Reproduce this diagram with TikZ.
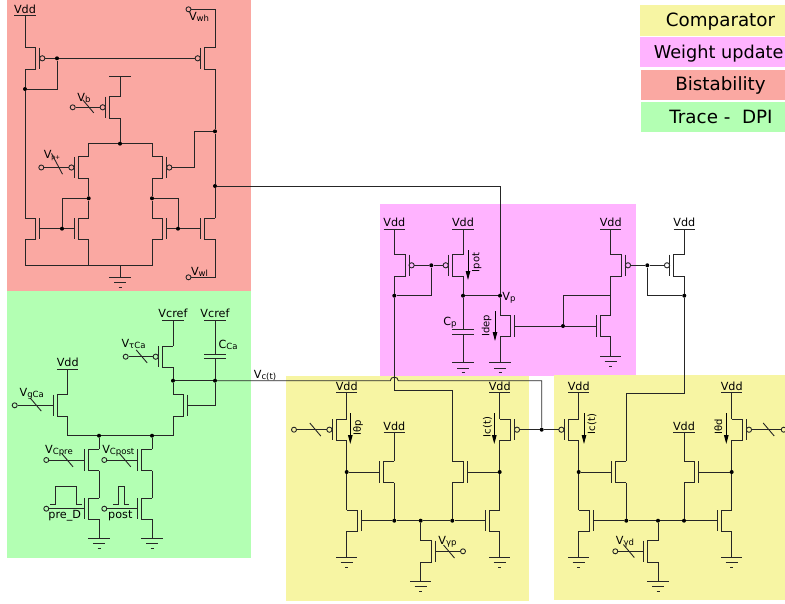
\documentclass[tikz,border=0pt]{standalone}
\usepackage{fontspec}
\setmainfont{DejaVu Sans}
\usepackage{xcolor}
\usetikzlibrary{arrows.meta}
\definecolor{cmpcol}{HTML}{F7F5A3}
\definecolor{wgtcol}{HTML}{FFB3FF}
\definecolor{bstcol}{HTML}{FAA8A2}
\definecolor{trccol}{HTML}{B3FFB3}
\newcommand{\vsub}[2]{#1\raisebox{-1pt}{\fontsize{8.5}{8.5}\selectfont #2}}
\tikzset{
  wire/.style={line width=0.9pt,black!85},
  dot/.style={circle,fill=black,inner sep=0pt,minimum size=4pt},
  term/.style={circle,draw=black!85,line width=0.9pt,fill=none,inner sep=0pt,minimum size=5pt},
  lbl/.style={anchor=base,inner sep=0pt,font=\fontsize{11.2}{11.2}\selectfont},
  rotlbl/.style={rotate=90,inner sep=0pt,font=\fontsize{10}{10}\selectfont},
  legtxt/.style={anchor=base,inner sep=0pt,font=\fontsize{18.3}{18.3}\selectfont},
  ibias/.style={line width=0.9pt,-{Triangle[length=9pt,width=4.5pt]}},
  nmos/.pic={
    \draw[wire] (0,-10.7) -- (10.7,-10.7) -- (10.7,10.7) -- (0,10.7);
    \draw[wire] (14.7,-10.7) -- (14.7,10.7);
    \coordinate (-t) at (0,-10.7);
    \coordinate (-b) at (0,10.7);
    \coordinate (-g) at (14.7,0);
  },
  pmos/.pic={
    \draw[wire] (0,-10.7) -- (10.7,-10.7) -- (10.7,10.7) -- (0,10.7);
    \draw[wire] (14.7,-10.7) -- (14.7,10.7);
    \draw[wire] (17.3,0) circle[radius=2.6pt];
    \coordinate (-t) at (0,-10.7);
    \coordinate (-b) at (0,10.7);
    \coordinate (-g) at (19.9,0);
  },
  supply/.pic={
    \draw[wire] (-10.7,0) -- (10.7,0);
    \node[lbl] (-l) at (0,-2.3) {#1};
    \coordinate (-o) at (0,0);
  },
  gnd/.pic={
    \draw[wire] (-10.7,0) -- (10.7,0);
    \draw[wire] (-6,5.5) -- (6,5.5);
    \draw[wire] (-1.5,10) -- (1.5,10);
    \coordinate (-o) at (0,0);
  },
  capa/.pic={
    \draw[wire] (-10.7,-2.4) -- (10.7,-2.4);
    \draw[wire] (-10.7,2.4) -- (10.7,2.4);
    \coordinate (-t) at (0,-2.4);
    \coordinate (-b) at (0,2.4);
  },
  knob/.pic={
    \draw[wire] (-5.5,-6.5) -- (5.5,6.5);
  },
}
\begin{document}
\begin{tikzpicture}[x=1pt,y=-1pt]
\useasboundingbox (0,0) rectangle (785,603);
% coloured blocks
\fill[bstcol] (7,0) rectangle (251,291);
\fill[trccol] (7,291) rectangle (251,557.5);
\fill[wgtcol] (380,204) rectangle (636,376);
\fill[cmpcol] (286,376) rectangle (529,601);
\fill[cmpcol] (554,375) rectangle (785,600);
% legend
\fill[cmpcol] (640,5) rectangle (785,36);
\fill[wgtcol] (640,37) rectangle (785,67);
\fill[bstcol] (641,70) rectangle (785,100);
\fill[trccol] (641,102) rectangle (785,132);
\node[legtxt] (legcmp) at (720.5,26.7) {Comparator};
\node[legtxt,font=\fontsize{17.7}{17.7}\selectfont] (legwgt) at (718.7,58.3) {Weight update};
\node[legtxt] (legbst) at (720.5,90.7) {Bistability};
\node[legtxt] (legtrc) at (721,123.3) {Trace -\ \ DPI};

% bistability
\pic (vdd1) at (25,15.3) {supply=Vdd};
\pic (vtop) at (120,76.7) {supply=};
\pic (m1) at (25,58.3) {pmos};
\pic[xscale=-1] (m2) at (215,58.3) {pmos};
\pic[xscale=-1] (m3) at (120,107.3) {pmos};
\pic[xscale=-1] (m4) at (88.7,167.5) {pmos};
\pic (m5) at (152,167.5) {pmos};
\pic (m6) at (25,228.7) {nmos};
\pic[xscale=-1] (m7) at (88.7,228.7) {nmos};
\pic (m8) at (152,228.7) {nmos};
\pic[xscale=-1] (m9) at (215,228.7) {nmos};
\pic (gnd1) at (120,277.3) {gnd};
\node[dot] (j1) at (57,58.3) {};
\node[dot] (j2) at (25,89) {};
\node[dot] (j3) at (120,143.7) {};
\node[dot] (j4) at (88.7,198.3) {};
\node[dot] (j5) at (152,198.3) {};
\node[dot] (j6) at (62,228.7) {};
\node[dot] (j7) at (178,228.7) {};
\node[dot] (j8) at (215,131.3) {};
\node[dot] (j9) at (215,186) {};
\node[term] (t1) at (188.5,9.3) {};
\node[term] (t2) at (72.7,107.3) {};
\node[term] (t3) at (41.3,167.5) {};
\node[term] (t4) at (188.5,277.3) {};
\coordinate (b1) at (120,265.3);
\coordinate (c1) at (194,167.5);
\coordinate (c2) at (500,186);
\draw[wire] (vdd1-o) -- (m1-t);
\draw[wire] (m1-g) -- (j1) -- (m2-g);
\draw[wire] (j1) |- (j2);
\draw[wire] (m1-b) -- (j2) -- (m6-t);
\draw[wire] (m2-t) |- (t1);
\draw[wire] (m2-b) -- (j8) -- (j9) -- (m9-t);
\draw[wire] (m9-b) |- (t4);
\draw[wire] (vtop-o) -- (m3-t);
\draw[wire] (m3-g) -- (t2);
\draw[wire] (m3-b) -- (j3);
\draw[wire] (m4-t) |- (j3) -| (m5-t);
\draw[wire] (m4-g) -- (t3);
\draw[wire] (m5-g) -- (c1) |- (j8);
\draw[wire] (m4-b) -- (j4) -- (m7-t);
\draw[wire] (m5-b) -- (j5) -- (m8-t);
\draw[wire] (j4) -| (j6);
\draw[wire] (j5) -| (j7);
\draw[wire] (m6-g) -- (j6) -- (m7-g);
\draw[wire] (m8-g) -- (j7) -- (m9-g);
\draw[wire] (m6-b) |- (b1) -| (m8-b);
\draw[wire] (m7-b) -- (m7-b |- b1);
\draw[wire] (b1) -- (gnd1-o);
\pic at (88.3,106.4) {knob};
\pic[yscale=1.6] at (57,163.8) {knob};
\node[lbl] (lvwh) at (199,20.7) {\vsub{V}{wh}};
\node[lbl] (lvb) at (84,101.7) {\vsub{V}{b}};
\node[lbl] (lvp) at (52,158) {V\raisebox{-1pt}{\fontsize{6}{6}\selectfont p+}};
\node[lbl] (lvwl) at (199.5,275) {\vsub{V}{wl}};

% trace - DPI
\pic (vcr1) at (173,320) {supply=Vcref};
\pic (vcr2) at (215,320) {supply=Vcref};
\pic (vdd2) at (67.7,369) {supply=Vdd};
\pic[xscale=-1] (m10) at (173,356.7) {pmos};
\pic (m11) at (173,405.3) {nmos};
\pic[xscale=-1] (m12) at (67.7,405.3) {nmos};
\pic[xscale=-1] (m13) at (99,460) {nmos};
\pic[xscale=-1] (m14) at (152,460) {nmos};
\pic[xscale=-1] (m15) at (99,508.7) {nmos};
\pic[xscale=-1] (m16) at (152,508.7) {nmos};
\pic (cca) at (215,356.5) {capa};
\pic (gnd2) at (99,538.3) {gnd};
\pic (gnd3) at (152,538.3) {gnd};
\node[dot] (j10) at (173,380.7) {};
\node[dot] (j11) at (215,380.7) {};
\node[dot] (j12) at (99,435.7) {};
\node[dot] (j13) at (152,435.7) {};
\node[term] (t5) at (125.7,356.7) {};
\node[term] (t6) at (14.7,405.3) {};
\node[term] (t7) at (46.3,460) {};
\node[term] (t8) at (104.3,460) {};
\node[term] (t9) at (46.3,508.7) {};
\node[term] (t10) at (104.3,508.7) {};
\coordinate (c3) at (215,405.3);
\draw[wire] (vcr1-o) -- (m10-t);
\draw[wire] (m10-g) -- (t5);
\draw[wire] (m10-b) -- (j10) -- (m11-t);
\draw[wire] (vcr2-o) -- (cca-t);
\draw[wire] (cca-b) -- (j11);
\draw[wire] (j10) -- (j11);
\draw[wire] (m11-g) -- (c3) -- (j11);
\draw[wire] (vdd2-o) -- (m12-t);
\draw[wire] (m12-g) -- (t6);
\draw[wire] (m12-b) |- (j12) -- (j13) -| (m11-b);
\draw[wire] (j12) -- (m13-t);
\draw[wire] (j13) -- (m14-t);
\draw[wire] (m13-g) -- (t7);
\draw[wire] (m14-g) -- (t8);
\draw[wire] (m13-b) -- (m15-t);
\draw[wire] (m14-b) -- (m16-t);
\draw[wire] (m15-g) -- (t9);
\draw[wire] (m16-g) -- (t10);
\draw[wire] (m15-b) -- (gnd2-o);
\draw[wire] (m16-b) -- (gnd3-o);
\draw[wire] (50,504.3) -- (55,504.3) -- (55,486) -- (76.3,486) -- (76.3,504.3) -- (81.7,504.3);
\draw[wire] (113.3,504.3) -- (118.7,504.3) -- (118.7,486) -- (124,486) -- (124,504.3) -- (129.3,504.3);
\pic at (141.7,356.4) {knob};
\pic at (35.8,404.6) {knob};
\pic at (67.5,460.3) {knob};
\pic at (125.3,460.3) {knob};
\node[lbl] (lvtca) at (133.5,347.3) {\vsub{V}{τCa}};
\node[lbl] (lcca) at (228,348.3) {\vsub{C}{Ca}};
\node[lbl] (lvgca) at (31.7,396.7) {\vsub{V}{gCa}};
\node[lbl] (lvcpre) at (59,453.3) {\vsub{V}{Cpre}};
\node[lbl] (lvcpost) at (118.3,453.3) {\vsub{V}{Cpost}};
\node[lbl] (lpre) at (64.7,518.7) {pre\_D};
\node[lbl] (lpost) at (120.3,518.7) {post};
\node[lbl] (lvct) at (265,378) {\vsub{V}{c(t)}};

% comparator p
\pic (vdd3) at (346.7,392.7) {supply=Vdd};
\pic (vdd4) at (394.3,432.3) {supply=Vdd};
\pic (vdd5) at (499.7,392.7) {supply=Vdd};
\pic[xscale=-1] (m20) at (346.7,429.7) {pmos};
\pic[xscale=-1] (m21) at (394.3,472) {nmos};
\pic (m22) at (346.7,520.7) {nmos};
\pic (m23) at (452.3,472) {nmos};
\pic (m24) at (420.7,551.3) {nmos};
\pic[xscale=-1] (m25) at (499.7,520.7) {nmos};
\pic (m26) at (499.7,429.7) {pmos};
\pic (gnd4) at (346.7,557.3) {gnd};
\pic (gnd5) at (420.7,581) {gnd};
\pic (gnd6) at (499.7,557.3) {gnd};
\node[dot] (j20) at (541.7,429.7) {};
\node[dot] (j21) at (346.7,472) {};
\node[dot] (j22) at (499.7,472) {};
\node[dot] (j23) at (394.3,520.7) {};
\node[dot] (j24) at (420.7,520.7) {};
\node[dot] (j25) at (452.3,520.7) {};
\node[term] (t11) at (294,429.7) {};
\node[term] (t12) at (463,551.3) {};
\coordinate (c4) at (390.3,380.7);
\coordinate (c5) at (398.3,380.7);
\coordinate (c6) at (394.3,390);
\draw[wire] (vdd3-o) -- (m20-t);
\draw[wire] (vdd4-o) -- (m21-t);
\draw[wire] (vdd5-o) -- (m26-t);
\draw[wire] (m20-g) -- (t11);
\draw[wire] (m20-b) -- (j21) -- (m22-t);
\draw[wire] (j21) -- (m21-g);
\draw[wire] (m26-b) -- (j22) -- (m25-t);
\draw[wire] (j22) -- (m23-g);
\draw[wire] (m21-b) -- (j23);
\draw[wire] (m23-b) -- (j25);
\draw[wire] (m22-g) -- (j23) -- (j24) -- (j25) -- (m25-g);
\draw[wire] (j24) -- (m24-t);
\draw[wire] (m24-g) -- (t12);
\draw[wire] (m22-b) -- (gnd4-o);
\draw[wire] (m24-b) -- (gnd5-o);
\draw[wire] (m25-b) -- (gnd6-o);
\draw[wire] (j11) -- (c4) .. controls (390.3,376) and (398.3,376) .. (c5) -| (j20);
\draw[wire] (c6) -| (m23-t);
\draw[wire] (m26-g) -- (j20);
\coordinate (a1s) at (350.3,413);
\coordinate (a1e) at (350.3,444);
\coordinate (a2s) at (494.3,413);
\coordinate (a2e) at (494.3,444);
\draw[ibias] (a1s) -- (a1e);
\draw[ibias] (a2s) -- (a2e);
\pic at (315.3,429.5) {knob};
\pic at (449,551.5) {knob};
\node[rotlbl] (lithp) at (358,428) {Iθp};
\node[rotlbl] (lict1) at (487.5,427) {Ic(t)};
\node[lbl] (lvyp) at (447.5,544.3) {\vsub{V}{γp}};

% comparator d
\pic (vdd6) at (578.7,392.7) {supply=Vdd};
\pic (vdd7) at (684,432.3) {supply=Vdd};
\pic (vdd8) at (731.7,392.7) {supply=Vdd};
\pic[xscale=-1] (m30) at (578.7,429.7) {pmos};
\pic[xscale=-1] (m31) at (626.3,472) {nmos};
\pic (m33) at (684,472) {nmos};
\pic (m35) at (578.7,520.7) {nmos};
\pic[xscale=-1] (m36) at (731.7,520.7) {nmos};
\pic[xscale=-1] (m37) at (658,551.3) {nmos};
\pic (m38) at (731.7,429.7) {pmos};
\pic (gnd7) at (578.7,557.3) {gnd};
\pic (gnd8) at (658,581) {gnd};
\pic (gnd9) at (731.7,557.3) {gnd};
\node[dot] (j30) at (578.7,472) {};
\node[dot] (j31) at (731.7,472) {};
\node[dot] (j32) at (626.3,520.7) {};
\node[dot] (j33) at (658,520.7) {};
\node[dot] (j34) at (684,520.7) {};
\node[term] (t13) at (615.3,551.3) {};
\node[term] (t14) at (783.7,429.7) {};
\coordinate (c7) at (684.3,393.3);
\draw[wire] (vdd6-o) -- (m30-t);
\draw[wire] (vdd7-o) -- (m33-t);
\draw[wire] (vdd8-o) -- (m38-t);
\draw[wire] (j20) -- (m30-g);
\draw[wire] (m38-g) -- (t14);
\draw[wire] (m30-b) -- (j30) -- (m35-t);
\draw[wire] (j30) -- (m31-g);
\draw[wire] (m38-b) -- (j31) -- (m36-t);
\draw[wire] (j31) -- (m33-g);
\draw[wire] (m31-b) -- (j32);
\draw[wire] (m33-b) -- (j34);
\draw[wire] (m35-g) -- (j32) -- (j33) -- (j34) -- (m36-g);
\draw[wire] (j33) -- (m37-t);
\draw[wire] (m37-g) -- (t13);
\draw[wire] (m35-b) -- (gnd7-o);
\draw[wire] (m37-b) -- (gnd8-o);
\draw[wire] (m36-b) -- (gnd9-o);
\coordinate (a3s) at (584,413);
\coordinate (a3e) at (584,444);
\coordinate (a4s) at (726.3,413);
\coordinate (a4e) at (726.3,444);
\draw[ibias] (a3s) -- (a3e);
\draw[ibias] (a4s) -- (a4e);
\pic at (628.8,551) {knob};
\pic at (768.7,429.5) {knob};
\node[rotlbl] (lict2) at (592,424) {Ic(t)};
\node[rotlbl] (lithd) at (718.3,427) {Iθd};
\node[lbl] (lvyd) at (625,544) {\vsub{V}{γd}};

% weight update
\pic (vdd9) at (394.3,229) {supply=Vdd};
\pic (vdd10) at (463,229) {supply=Vdd};
\pic (vdd11) at (610.7,229) {supply=Vdd};
\pic (vdd12) at (684.3,229) {supply=Vdd};
\pic (m40) at (394.3,265.3) {pmos};
\pic[xscale=-1] (m41) at (463,265.3) {pmos};
\pic (m42) at (500,326) {nmos};
\pic[xscale=-1] (m43) at (684.3,265.3) {pmos};
\pic[xscale=-1] (m44) at (610.7,326) {nmos};
\pic (m45) at (610.7,265.3) {pmos};
\pic (cp) at (463,332.3) {capa};
\pic (gnd10) at (463,362.7) {gnd};
\pic (gnd11) at (500,362.7) {gnd};
\pic (gnd12) at (610.7,356) {gnd};
\node[dot] (j40) at (431.3,265.3) {};
\node[dot] (j41) at (394.3,295.7) {};
\node[dot] (j42) at (463,295.7) {};
\node[dot] (j43) at (500,295.7) {};
\node[dot] (j44) at (563,326) {};
\node[dot] (j45) at (647.3,265.3) {};
\node[dot] (j46) at (684.3,295.7) {};
\coordinate (c8) at (610.7,295.7);
\draw[wire] (vdd9-o) -- (m40-t);
\draw[wire] (vdd10-o) -- (m41-t);
\draw[wire] (vdd11-o) -- (m45-t);
\draw[wire] (vdd12-o) -- (m43-t);
\draw[wire] (m40-g) -- (j40) -- (m41-g);
\draw[wire] (j40) |- (j41);
\draw[wire] (m40-b) -- (j41) -- (c6);
\draw[wire] (m41-b) -- (j42) -- (cp-t);
\draw[wire] (cp-b) -- (gnd10-o);
\draw[wire] (j42) -- (j43);
\draw[wire] (j9) -- (c2) -- (j43) -- (m42-t);
\draw[wire] (m42-b) -- (gnd11-o);
\draw[wire] (m42-g) -- (j44) -- (m44-g);
\draw[wire] (j44) |- (c8);
\draw[wire] (m45-b) -- (c8) -- (m44-t);
\draw[wire] (m44-b) -- (gnd12-o);
\draw[wire] (m45-g) -- (j45) -- (m43-g);
\draw[wire] (j45) |- (j46);
\draw[wire] (m43-b) -- (j46) -- (c7) -| (m31-t);
\coordinate (a5s) at (468,250);
\coordinate (a5e) at (468,280);
\coordinate (a6s) at (495,311);
\coordinate (a6e) at (495,341);
\draw[ibias] (a5s) -- (a5e);
\draw[ibias] (a6s) -- (a6e);
\node[rotlbl] (lipot) at (476.7,262.5) {Ipot};
\node[rotlbl] (lidep) at (486.7,326) {Idep};
\node[lbl] (lcp) at (450,325.7) {\vsub{C}{p}};
\node[lbl] (lvp2) at (509,300) {\vsub{V}{p}};
\end{tikzpicture}
\end{document}
